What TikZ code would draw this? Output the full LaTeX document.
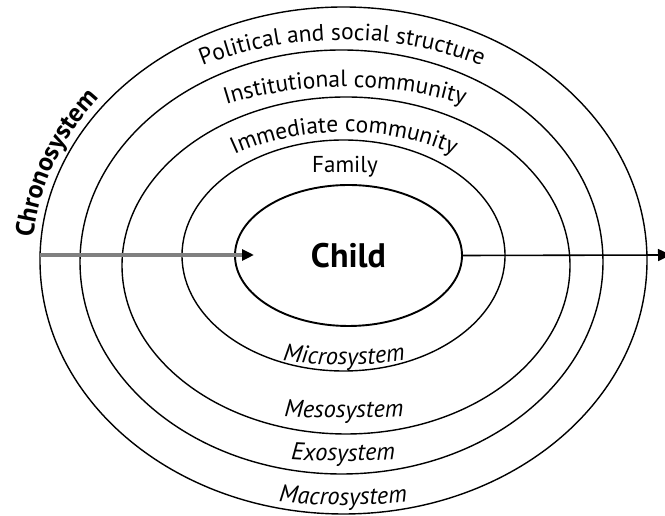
\documentclass[tikz,border=0pt]{standalone}
\usepackage{fontspec}
\setmainfont{PT Sans}
\usetikzlibrary{shapes.geometric,decorations.text,arrows.meta}

% label fonts
\newcommand\toplbl{\fontsize{23.5}{23.5}\selectfont}
\newcommand\botlbl{\fontsize{24.5}{24.5}\selectfont\itshape}
\newcommand\chronolbl{\fontsize{26}{26}\selectfont\bfseries}

% text set along an elliptic arc: cx, cy, rx, ry, start angle, end angle, text
\newcommand\arclabel[7]{%
  \path[decorate,decoration={text along path,text align=center,text={#7}}]
    (#1,#2) ++(#5:#3 and #4)
    arc[start angle=#5,end angle=#6,x radius=#3,y radius=#4];}

\begin{document}
\begin{tikzpicture}[x=1pt,y=1pt,
  ring/.style={draw=black,line width=1.4pt},
  childnode/.style={ellipse,draw=black,line width=1.9pt,inner sep=0pt,
    minimum width=227pt,minimum height=141pt,
    font=\fontsize{34}{34}\selectfont\bfseries},
  lbl/.style={inner sep=0pt,font=\fontsize{23}{23}\selectfont},
  timeline/.style={draw=black!50,line width=3.4pt},
  outline/.style={draw=black,line width=1.6pt}]
\useasboundingbox (0,0) rectangle (665,516);

% nested system rings
\draw[ring] (343.5,255.5) ellipse[x radius=303.5,y radius=253.5];
\draw[ring] (341.5,254) ellipse[x radius=261.5,y radius=212];
\draw[ring] (346,250.5) ellipse[x radius=224,y radius=168.5];
\draw[ring] (343.5,260.5) ellipse[x radius=161.5,y radius=115.5];

% the child at the centre
\node[childnode] (child) at (348.5,260.5) {Child};

% time axis through the rings
\coordinate (tstart) at (40,261);
\coordinate (tin) at (254,261);
\coordinate (tend) at (671,261);
\draw[timeline,-{Triangle[black,length=12pt,width=11pt]}] (tstart) -- (tin);
\draw[outline,-{Triangle[length=13pt,width=12pt]}] (child.east) -- (tend);

% upper labels
\arclabel{342}{254}{297}{222}{150}{30}{|\toplbl|Political and social structure}
\arclabel{345}{250.5}{274}{178.5}{150}{30}{|\toplbl|Institutional community}
\arclabel{344}{260.5}{189}{123.5}{155}{25}{|\toplbl|Immediate community}
\node[lbl,anchor=base] (family) at (345,343) {Family};

% lower labels
\arclabel{344}{260.5}{211}{109.5}{210}{330}{|\botlbl|Microsystem}
\arclabel{344}{250.5}{372}{152.5}{210}{330}{|\botlbl|Mesosystem}
\arclabel{343}{255}{408}{200}{210}{330}{|\botlbl|Exosystem}
\arclabel{343}{255}{383}{244}{210}{330}{|\botlbl|Macrosystem}

% chronosystem along the outer ring
\path[decorate,decoration={text along path,text align=left,text={|\chronolbl|Chronosystem}}]
  (343.5,255.5) ++(175:311.5 and 261.5)
  arc[start angle=175,end angle=100,x radius=311.5,y radius=261.5];
\end{tikzpicture}
\end{document}
